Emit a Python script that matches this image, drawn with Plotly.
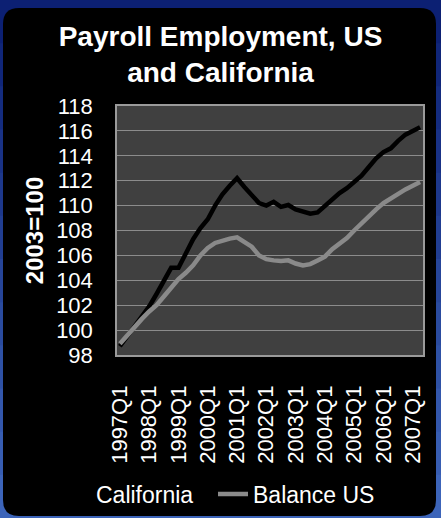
import plotly.graph_objects as go

# Quarterly index values, 2003 = 100
quarters = [f"{y}Q{q}" for y in range(1997, 2008) for q in range(1, 5)][:42]
california = [98.7, 99.5, 100.3, 101.0, 101.9, 102.9, 104.0, 105.0, 105.0, 106.2,
              107.3, 108.2, 108.9, 110.0, 110.9, 111.6, 112.2, 111.5, 110.8, 110.2,
              110.0, 110.3, 109.9, 110.05, 109.7, 109.5, 109.35, 109.45, 110.0, 110.5,
              111.0, 111.4, 111.9, 112.4, 113.1, 113.8, 114.3, 114.6, 115.2, 115.7,
              116.0, 116.3]
balance_us = [98.9, 99.6, 100.2, 100.9, 101.5, 102.0, 102.7, 103.4, 104.1, 104.6,
              105.2, 106.0, 106.6, 107.0, 107.2, 107.35, 107.45, 107.1, 106.7, 106.0,
              105.7, 105.6, 105.55, 105.6, 105.35, 105.2, 105.3, 105.6, 105.9, 106.5,
              106.9, 107.4, 108.0, 108.6, 109.1, 109.7, 110.2, 110.6, 110.9, 111.3,
              111.6, 111.9]
tick_labels = [f"{y}Q1" for y in range(1997, 2008)]

W, H = 441, 518
ML, MR, MT, MB = 117, 18, 106, 163
PW, PH = W - ML - MR, H - MT - MB


def px(x):
    return (x - ML) / PW


def py(y):
    return (H - MB - y) / PH


FONT = "Liberation Sans, Arial, sans-serif"

fig = go.Figure()
fig.add_trace(go.Scatter(x=quarters, y=california, name="California", mode="lines",
                         line=dict(color="#000000", width=4.5), legend="legend"))
fig.add_trace(go.Scatter(x=quarters, y=balance_us, name="Balance US", mode="lines",
                         line=dict(color="#8a8a8a", width=4.5), legend="legend2"))

shapes = []
# blue backdrop, darker at the top
bands = 12
for i in range(bands):
    t = i / (bands - 1)
    r = int(12 + t * (60 - 12))
    g = int(32 + t * (100 - 32))
    b = int(115 + t * (185 - 115))
    y0 = i * H / bands
    y1 = (i + 1) * H / bands + 1
    shapes.append(dict(type="rect", xref="paper", yref="paper", layer="below",
                       x0=px(0), x1=px(W), y0=py(y1), y1=py(y0),
                       fillcolor=f"rgb({r},{g},{b})", line=dict(width=0)))

# rounded black panel
x0, x1, y0, y1, rr = 3, 436, 8, 516, 16
path = (f"M {px(x0 + rr)},{py(y0)} L {px(x1 - rr)},{py(y0)} "
        f"Q {px(x1)},{py(y0)} {px(x1)},{py(y0 + rr)} L {px(x1)},{py(y1 - rr)} "
        f"Q {px(x1)},{py(y1)} {px(x1 - rr)},{py(y1)} L {px(x0 + rr)},{py(y1)} "
        f"Q {px(x0)},{py(y1)} {px(x0)},{py(y1 - rr)} L {px(x0)},{py(y0 + rr)} "
        f"Q {px(x0)},{py(y0)} {px(x0 + rr)},{py(y0)} Z")
shapes.append(dict(type="path", xref="paper", yref="paper", layer="below", path=path,
                   fillcolor="#000000", line=dict(width=0)))
# plot area fill
shapes.append(dict(type="rect", xref="paper", yref="paper", layer="below",
                   x0=0, x1=1, y0=0, y1=1, fillcolor="#404040", line=dict(width=0)))

legend_style = dict(orientation="h", xref="container", xanchor="left",
                    y=24 / H, yref="container", yanchor="middle",
                    font=dict(family=FONT, size=23, color="#ffffff"),
                    bgcolor="rgba(0,0,0,0)", itemwidth=30)

fig.update_layout(
    width=W, height=H,
    margin=dict(l=ML, r=MR, t=MT, b=MB, autoexpand=False),
    paper_bgcolor="#1a3688",
    plot_bgcolor="rgba(0,0,0,0)",
    shapes=shapes,
    font=dict(family=FONT, color="#ffffff", size=22),
    title=dict(text="<b>Payroll Employment, US<br>and California</b>",
               font=dict(family=FONT, size=28, color="#ffffff"),
               x=0.5, xref="container", xanchor="center",
               y=1 - 46 / H, yref="container", yanchor="middle"),
    showlegend=True,
    legend=dict(x=56 / W, **legend_style),
    legend2=dict(x=213 / W, **legend_style),
    xaxis=dict(type="category", range=[-0.4, 41.4], tickmode="array",
               tickvals=tick_labels, ticktext=tick_labels, tickangle=-90,
               showgrid=False, zeroline=False, ticks="",
               showline=True, linecolor="#9a9a9a", linewidth=1.5, mirror=True,
               tickfont=dict(family=FONT, size=22, color="#ffffff"),
               ticklabelstandoff=20),
    yaxis=dict(range=[98, 118], dtick=2, tick0=98,
               showgrid=True, gridcolor="#8c8c8c", gridwidth=1.2, zeroline=False,
               ticks="", showline=True, linecolor="#9a9a9a", linewidth=1.5, mirror=True,
               tickfont=dict(family=FONT, size=22, color="#ffffff"),
               ticklabelstandoff=18,
               title=dict(text="<b>2003=100</b>", standoff=6,
                          font=dict(family=FONT, size=24, color="#ffffff"))),
)

fig.write_html("out.html")
